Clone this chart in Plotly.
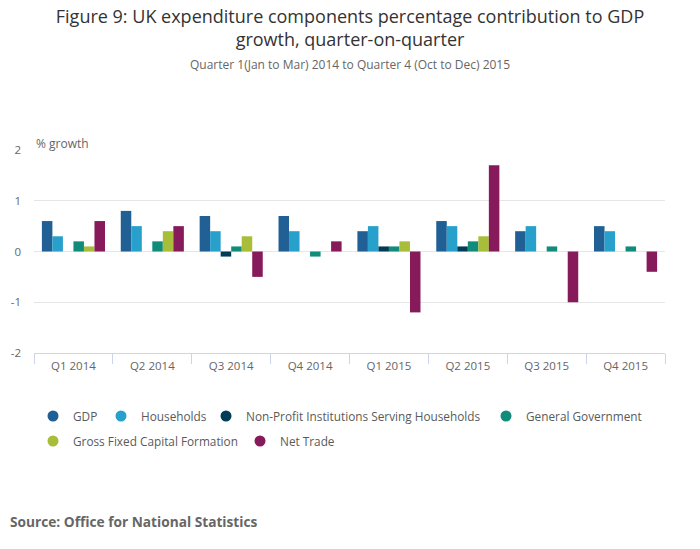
import plotly.graph_objects as go

# ==============================================================================
# DATA
# ==============================================================================

quarters = ['Q1 2014', 'Q2 2014', 'Q3 2014', 'Q4 2014',
            'Q1 2015', 'Q2 2015', 'Q3 2015', 'Q4 2015']

gdp = [0.6, 0.8, 0.7, 0.7, 0.4, 0.6, 0.4, 0.5]
households = [0.3, 0.5, 0.4, 0.4, 0.5, 0.5, 0.5, 0.4]
npish = [0.0, 0.0, -0.1, 0.0, 0.1, 0.1, 0.0, 0.0]
general_gov = [0.2, 0.2, 0.1, -0.1, 0.1, 0.2, 0.1, 0.1]
gfcf = [0.1, 0.4, 0.3, 0.0, 0.2, 0.3, 0.0, 0.0]
net_trade = [0.6, 0.5, -0.5, 0.2, -1.2, 1.7, -1.0, -0.4]

names = ['GDP', 'Households', 'Non-Profit Institutions Serving Households',
         'General Government', 'Gross Fixed Capital Formation', 'Net Trade']
values = [gdp, households, npish, general_gov, gfcf, net_trade]
colors = ['#206095', '#27a0cc', '#003c57', '#118c7b', '#a8bd3a', '#871a5b']

y_ticks = [-2, -1, 0, 1, 2]
y_tick_text = ['-2', '-1', '0', '1', '2']

FONT = 'Open Sans'

# plot area in pixels (for placing the legend rows)
PLOT_L, PLOT_W, PLOT_B, PLOT_H = 34, 631, 353, 203

# legend entry placement: (left px, row centre px) for each series
legend_pos = [(33, 416), (101, 416), (206, 416), (486, 416),
              (33, 441), (240, 441)]

# ==============================================================================
# FIGURE
# ==============================================================================

fig = go.Figure()

legend_layouts = {}
for i, (name, vals, color) in enumerate(zip(names, values, colors)):
    leg = 'legend' if i == 0 else f'legend{i + 1}'
    fig.add_trace(go.Bar(
        x=quarters, y=vals, name=name,
        marker=dict(color=color, line=dict(width=0)),
        showlegend=False,
    ))
    # round legend symbol, one legend box per entry
    fig.add_trace(go.Scatter(
        x=[None], y=[None], name=name, mode='markers',
        marker=dict(symbol='circle', size=11, color=color),
        legend=leg,
    ))
    px, py = legend_pos[i]
    legend_layouts[leg] = dict(
        orientation='h', xanchor='left', yanchor='middle',
        x=(px - PLOT_L) / PLOT_W, y=-(py - PLOT_B) / PLOT_H,
        font=dict(family=FONT, size=11.8, color='#5a5a5a'),
        bgcolor='rgba(0,0,0,0)', itemclick=False, borderwidth=0,
    )

fig.update_layout(
    width=700, height=549,
    margin=dict(l=34, r=35, t=150, b=196),
    paper_bgcolor='white', plot_bgcolor='white',
    font=dict(family=FONT, color='#666666'),
    title=dict(
        text='Figure 9: UK expenditure components percentage contribution to GDP<br>growth, quarter-on-quarter',
        x=0.5, xanchor='center', y=1 - 23 / 549, yanchor='top',
        font=dict(family=FONT, size=18, color='#333333'),
    ),
    barmode='group', bargap=0.2, bargroupgap=0,
    annotations=[
        dict(text='Quarter 1(Jan to Mar) 2014 to Quarter 4 (Oct to Dec) 2015',
             xref='paper', yref='paper', x=0.5, y=1 + (150 - 64) / 203,
             xanchor='center', yanchor='middle', showarrow=False,
             font=dict(family=FONT, size=12, color='#666666')),
        dict(text='% growth', xref='paper', yref='paper', x=0, y=1 + 7 / 203,
             xanchor='left', yanchor='middle', showarrow=False,
             font=dict(family=FONT, size=12, color='#666666')),
        dict(text='<b>Source: Office for National Statistics</b>',
             xref='paper', yref='paper', x=-26 / 631, y=-(521 - 353) / 203,
             xanchor='left', yanchor='middle', showarrow=False,
             font=dict(family=FONT, size=13.7, color='#666666')),
    ],
    **legend_layouts,
)

fig.update_xaxes(
    showline=True, linecolor='#ccd6eb', linewidth=1,
    ticks='outside', tickson='boundaries', ticklen=10, tickcolor='#ccd6eb',
    ticklabelstandoff=2,
    tickfont=dict(family=FONT, size=11.5, color='#666666'),
    showgrid=False, fixedrange=True,
)
fig.update_yaxes(
    range=[-2, 2], tickvals=y_ticks, ticktext=y_tick_text,
    showgrid=True, gridcolor='#e6e6e6', gridwidth=1,
    zeroline=True, zerolinecolor='#e6e6e6', zerolinewidth=1,
    showline=False, ticks='', ticklabelstandoff=12,
    tickfont=dict(family=FONT, size=11.5, color='#666666'),
    fixedrange=True,
)

# page body has a default 8px margin; drop it so the figure fills the window
fig.write_html("out.html", config={'displayModeBar': False},
               post_script="document.body.style.margin='0';")
